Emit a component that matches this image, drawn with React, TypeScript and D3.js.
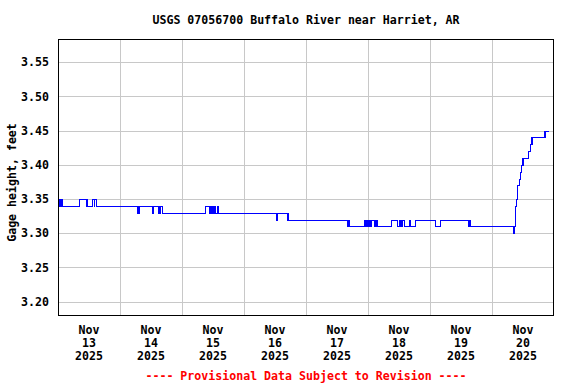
import * as d3 from 'd3';
import { useEffect, useRef } from 'react';

// gage height change points, hours after Nov 13 2025 00:00
const changeHours = [
    0, 0.5, 0.75, 1.25, 1.5, 1.75, 8.25, 11.25, 13.5, 14, 14.25, 15,
    31, 31.5, 36.5, 37, 38.75, 39.5, 40.5, 57, 58.75, 59, 59.5, 60, 60.75, 61.75, 62,
    84.5, 85, 89, 112, 112.25, 112.75, 118.5, 119, 119.5, 120, 120.5, 121, 121.5, 122.5, 123, 123.5,
    129, 131.5, 132.25, 132.75, 133.25, 134.25, 136, 136.25, 138.25, 146.25, 148, 159, 159.5, 159.75,
    176.25, 176.5, 177, 177.25, 177.5, 177.75, 178, 178.5, 179, 179.5, 180, 182, 182.75, 183.5,
    188.25, 188.5, 188.75,
];
const gageHeights = [
    3.35, 3.34, 3.35, 3.34, 3.35, 3.34, 3.35, 3.34, 3.35, 3.34, 3.35, 3.34,
    3.33, 3.34, 3.33, 3.34, 3.33, 3.34, 3.33, 3.34, 3.33, 3.34, 3.33, 3.34, 3.33, 3.34, 3.33,
    3.32, 3.33, 3.32, 3.31, 3.32, 3.31, 3.32, 3.31, 3.32, 3.31, 3.32, 3.31, 3.32, 3.31, 3.32, 3.31,
    3.32, 3.31, 3.32, 3.31, 3.32, 3.31, 3.32, 3.31, 3.32, 3.31, 3.32, 3.31, 3.32, 3.31,
    3.3, 3.31, 3.33, 3.34, 3.35, 3.36, 3.37, 3.38, 3.39, 3.4, 3.41, 3.42, 3.43, 3.44,
    3.45, 3.44, 3.45,
];
const lastHour = 190;

const dayLabels = ['13', '14', '15', '16', '17', '18', '19', '20'];
const monthLabel = 'Nov';
const yearLabel = '2025';
const yTicks = [3.2, 3.25, 3.3, 3.35, 3.4, 3.45, 3.5, 3.55];

const title = 'USGS 07056700 Buffalo River near Harriet, AR';
const yTitle = 'Gage height, feet';
const footer = '---- Provisional Data Subject to Revision ----';

export default function App() {
    const ref = useRef<SVGSVGElement | null>(null);

    useEffect(() => {
        if (!ref.current) return;
        const svg = d3.select(ref.current);
        svg.selectAll('*').remove();

        const width = 576;
        const height = 384;
        const m = { left: 58, right: 22, top: 39, bottom: 68 };
        const font = "'DejaVu Sans Mono', monospace";
        const start = Date.UTC(2025, 10, 13);
        const hr = 3600 * 1000;

        const x = d3
            .scaleUtc()
            .domain([new Date(start), new Date(start + 8 * 24 * hr)])
            .range([m.left, width - m.right]);
        const y = d3
            .scaleLinear()
            .domain([3.179, 3.584])
            .range([height - m.bottom, m.top]);

        svg.attr('viewBox', `0 0 ${width} ${height}`);

        // grid
        const grid = svg.append('g').attr('stroke', '#c8c8c8').attr('stroke-width', 1).attr('shape-rendering', 'crispEdges');
        grid.selectAll('line.h')
            .data(yTicks)
            .join('line')
            .attr('x1', m.left)
            .attr('x2', width - m.right)
            .attr('y1', (d) => Math.round(y(d)) + 0.5)
            .attr('y2', (d) => Math.round(y(d)) + 0.5);
        grid.selectAll('line.v')
            .data(d3.range(1, 8))
            .join('line')
            .attr('x1', (i) => Math.round(x(new Date(start + i * 24 * hr))) + 0.5)
            .attr('x2', (i) => Math.round(x(new Date(start + i * 24 * hr))) + 0.5)
            .attr('y1', m.top)
            .attr('y2', height - m.bottom);

        // data line
        const pts: [Date, number][] = changeHours.map((h, i) => [new Date(start + h * hr), gageHeights[i]]);
        pts.push([new Date(start + lastHour * hr), gageHeights[gageHeights.length - 1]]);
        const line = d3
            .line<[Date, number]>()
            .x((d) => x(d[0]))
            .y((d) => Math.round(y(d[1])) + 0.5)
            .curve(d3.curveStepAfter);
        svg.append('path')
            .datum(pts)
            .attr('d', line)
            .attr('fill', 'none')
            .attr('stroke', '#0000ff')
            .attr('stroke-width', 1.2)
            .attr('shape-rendering', 'crispEdges');

        // frame
        svg.append('rect')
            .attr('x', m.left + 0.5)
            .attr('y', m.top + 0.5)
            .attr('width', width - m.left - m.right - 1)
            .attr('height', height - m.top - m.bottom - 1)
            .attr('fill', 'none')
            .attr('stroke', '#000')
            .attr('shape-rendering', 'crispEdges');

        // y axis labels
        svg.append('g')
            .attr('transform', `translate(${m.left - 6},0)`)
            .call(d3.axisLeft(y).tickValues(yTicks).tickSize(0).tickFormat(d3.format('.2f')))
            .call((g) => g.select('.domain').remove())
            .selectAll('text')
            .attr('font-family', font)
            .attr('font-weight', 'bold')
            .attr('font-size', 11.6)
            .attr('fill', '#000');

        // x axis labels
        const xl = svg.append('g')
            .attr('font-family', font)
            .attr('font-weight', 'bold')
            .attr('font-size', 11.6)
            .attr('text-anchor', 'middle');
        const t = xl.selectAll('text')
            .data(dayLabels)
            .join('text')
            .attr('x', (_, i) => x(new Date(start + (i + 0.5) * 24 * hr)))
            .attr('y', 334);
        t.append('tspan').attr('x', (_, i) => x(new Date(start + (i + 0.5) * 24 * hr))).text(monthLabel);
        t.append('tspan').attr('x', (_, i) => x(new Date(start + (i + 0.5) * 24 * hr))).attr('dy', 13).text((d) => d);
        t.append('tspan').attr('x', (_, i) => x(new Date(start + (i + 0.5) * 24 * hr))).attr('dy', 13).text(yearLabel);

        // titles
        svg.append('text')
            .attr('x', (m.left + width - m.right) / 2)
            .attr('y', 24)
            .attr('text-anchor', 'middle')
            .attr('font-family', font)
            .attr('font-weight', 'bold')
            .attr('font-size', 11.6)
            .text(title);
        svg.append('text')
            .attr('transform', `translate(16,${(m.top + height - m.bottom) / 2 + 5}) rotate(-90)`)
            .attr('text-anchor', 'middle')
            .attr('font-family', font)
            .attr('font-weight', 'bold')
            .attr('font-size', 11.6)
            .text(yTitle);
        svg.append('text')
            .attr('x', (m.left + width - m.right) / 2)
            .attr('y', 380)
            .attr('text-anchor', 'middle')
            .attr('font-family', font)
            .attr('font-weight', 'bold')
            .attr('font-size', 11.6)
            .attr('fill', '#ff0000')
            .text(footer);
    }, []);

    return (
        <div style={{ position: 'fixed', left: 0, top: 0, width: 576, height: 384, background: '#fff' }}>
            <svg ref={ref} width={576} height={384} style={{ display: 'block' }} />
        </div>
    );
}
